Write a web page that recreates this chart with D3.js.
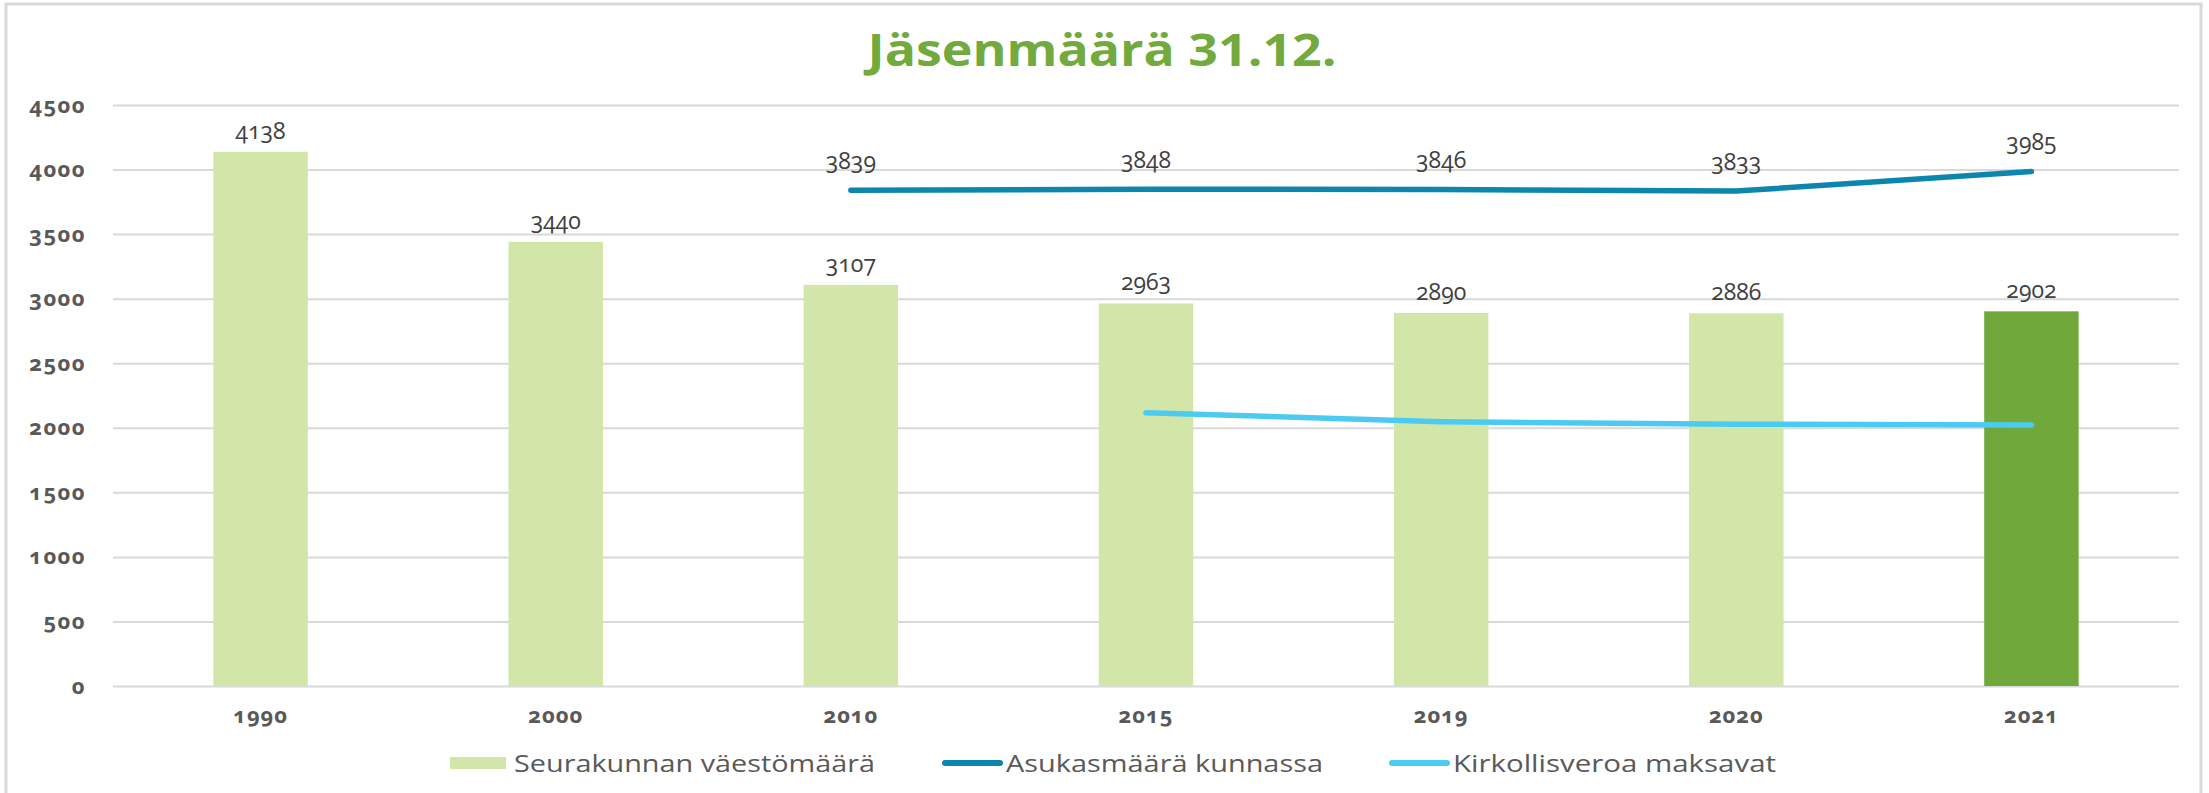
<!DOCTYPE html>
<html>
<head>
<meta charset="utf-8">
<script src="https://cdn.jsdelivr.net/npm/d3@7"></script>
<style>
  body { margin: 0; background: #fff; }
  text { font-family: "Open Sans", "Noto Sans", sans-serif; font-variant-numeric: oldstyle-nums; font-feature-settings: "onum"; }
  text.title { font-variant-numeric: normal; font-feature-settings: normal; }
</style>
</head>
<body>
<div id="chart"></div>
<script>
let years = ["1990", "2000", "2010", "2015", "2019", "2020", "2021"]
let seurakunta = [4138, 3440, 3107, 2963, 2890, 2886, 2902]
let asukkaat = [null, null, 3839, 3848, 3846, 3833, 3985]
let kirkollisvero = [null, null, null, 2116, 2047, 2028, 2022]
let yTicks = [0, 500, 1000, 1500, 2000, 2500, 3000, 3500, 4000, 4500]
let legendLabels = ["Seurakunnan väestömäärä", "Asukasmäärä kunnassa", "Kirkollisveroa maksavat"]
let title = "Jäsenmäärä 31.12."

var width = 2209, height = 793
var margin = {top: 105, right: 30, bottom: 107, left: 113}
var plotRight = width - margin.right
var plotBottom = height - margin.bottom

var svg = d3.select("#chart")
  .append("svg")
  .attr("width", width)
  .attr("height", height)

// outer frame
svg.append("rect")
  .attr("x", 6).attr("y", 4)
  .attr("width", 2195).attr("height", 820)
  .attr("fill", "none")
  .attr("stroke", "#d9d9d9")
  .attr("stroke-width", 3)

var x = d3.scaleBand()
  .domain(years)
  .range([margin.left, plotRight])
  .paddingInner(0.68)
  .paddingOuter(0.34)

var y = d3.scaleLinear()
  .domain([0, 4500])
  .range([plotBottom, margin.top])

// gridlines + y labels
svg.append("g")
  .attr("transform", "translate(" + margin.left + ",0)")
  .call(d3.axisLeft(y)
    .tickValues(yTicks)
    .tickSize(-(plotRight - margin.left))
    .tickPadding(27)
    .tickFormat(d3.format("d")))
  .call(g => g.select(".domain").remove())
  .call(g => g.selectAll(".tick line").attr("stroke", "#d9d9d9").attr("stroke-width", 2))
  .call(g => g.selectAll(".tick text")
    .attr("fill", "#595959")
    .attr("font-size", 22)
    .attr("letter-spacing", 1.5)
    .attr("font-weight", "bold"))

// x labels
svg.append("g")
  .attr("transform", "translate(0," + plotBottom + ")")
  .call(d3.axisBottom(x).tickSize(0).tickPadding(21))
  .call(g => g.select(".domain").remove())
  .call(g => g.selectAll(".tick text")
    .attr("fill", "#595959")
    .attr("font-size", 22)
    .attr("letter-spacing", 1)
    .attr("font-weight", "bold"))

// bars
svg.selectAll(".bar")
  .data(seurakunta)
  .enter().append("rect")
  .attr("class", "bar")
  .attr("x", (d, i) => x(years[i]))
  .attr("y", d => y(d))
  .attr("width", x.bandwidth())
  .attr("height", d => y(0) - y(d))
  .attr("fill", (d, i) => i == years.length - 1 ? "#70a83b" : "#d3e6aa")

svg.selectAll(".barlabel")
  .data(seurakunta)
  .enter().append("text")
  .attr("class", "barlabel")
  .attr("x", (d, i) => x(years[i]) + x.bandwidth() / 2)
  .attr("y", d => y(d) - 13)
  .attr("text-anchor", "middle")
  .attr("fill", "#404040")
  .attr("font-size", 23)
  .text(d => d)

// lines
let cx = i => x(years[i]) + x.bandwidth() / 2
let line = d3.line()
  .defined(d => d != null)
  .x((d, i) => cx(i))
  .y(d => y(d))

svg.append("path")
  .attr("d", line(asukkaat))
  .attr("fill", "none")
  .attr("stroke", "#0d86ae")
  .attr("stroke-width", 5.5)
  .attr("stroke-linecap", "round")
  .attr("stroke-linejoin", "round")

svg.append("path")
  .attr("d", line(kirkollisvero))
  .attr("fill", "none")
  .attr("stroke", "#4ccbf2")
  .attr("stroke-width", 5.5)
  .attr("stroke-linecap", "round")
  .attr("stroke-linejoin", "round")

let asukasPoints = asukkaat.map((v, i) => ({v: v, i: i})).filter(d => d.v != null)
svg.selectAll(".linelabel")
  .data(asukasPoints)
  .enter().append("text")
  .attr("class", "linelabel")
  .attr("x", d => cx(d.i))
  .attr("y", d => y(d.v) - 21)
  .attr("text-anchor", "middle")
  .attr("fill", "#404040")
  .attr("font-size", 23)
  .text(d => d.v)

// title
svg.append("text")
  .attr("class", "title")
  .attr("x", 1102)
  .attr("y", 66)
  .attr("text-anchor", "middle")
  .attr("fill", "#72aa3e")
  .attr("font-size", 44)
  .attr("font-weight", "bold")
  .attr("textLength", 469)
  .attr("lengthAdjust", "spacingAndGlyphs")
  .text(title)

// legend (manual placement)
let legendColors = ["#d3e6aa", "#0d86ae", "#4ccbf2"]
let legendX = [450, 942, 1389]
let legendTextLen = [361, 317, 323]
let legendY = 763
legendLabels.forEach(function(lbl, i) {
  let item = svg.append("g").attr("transform", "translate(" + legendX[i] + "," + legendY + ")")
  if (i == 0) {
    item.append("rect").attr("x", 0).attr("y", -6).attr("width", 56).attr("height", 12).attr("fill", legendColors[i])
  } else {
    item.append("line").attr("x1", 3).attr("x2", 58).attr("y1", 0).attr("y2", 0)
      .attr("stroke", legendColors[i]).attr("stroke-width", 6).attr("stroke-linecap", "round")
  }
  item.append("text")
    .attr("x", 64)
    .attr("y", 0)
    .attr("dy", "0.36em")
    .attr("fill", "#595959")
    .attr("font-size", 24)
    .attr("textLength", legendTextLen[i])
    .attr("lengthAdjust", "spacingAndGlyphs")
    .text(lbl)
})
</script>
</body>
</html>
